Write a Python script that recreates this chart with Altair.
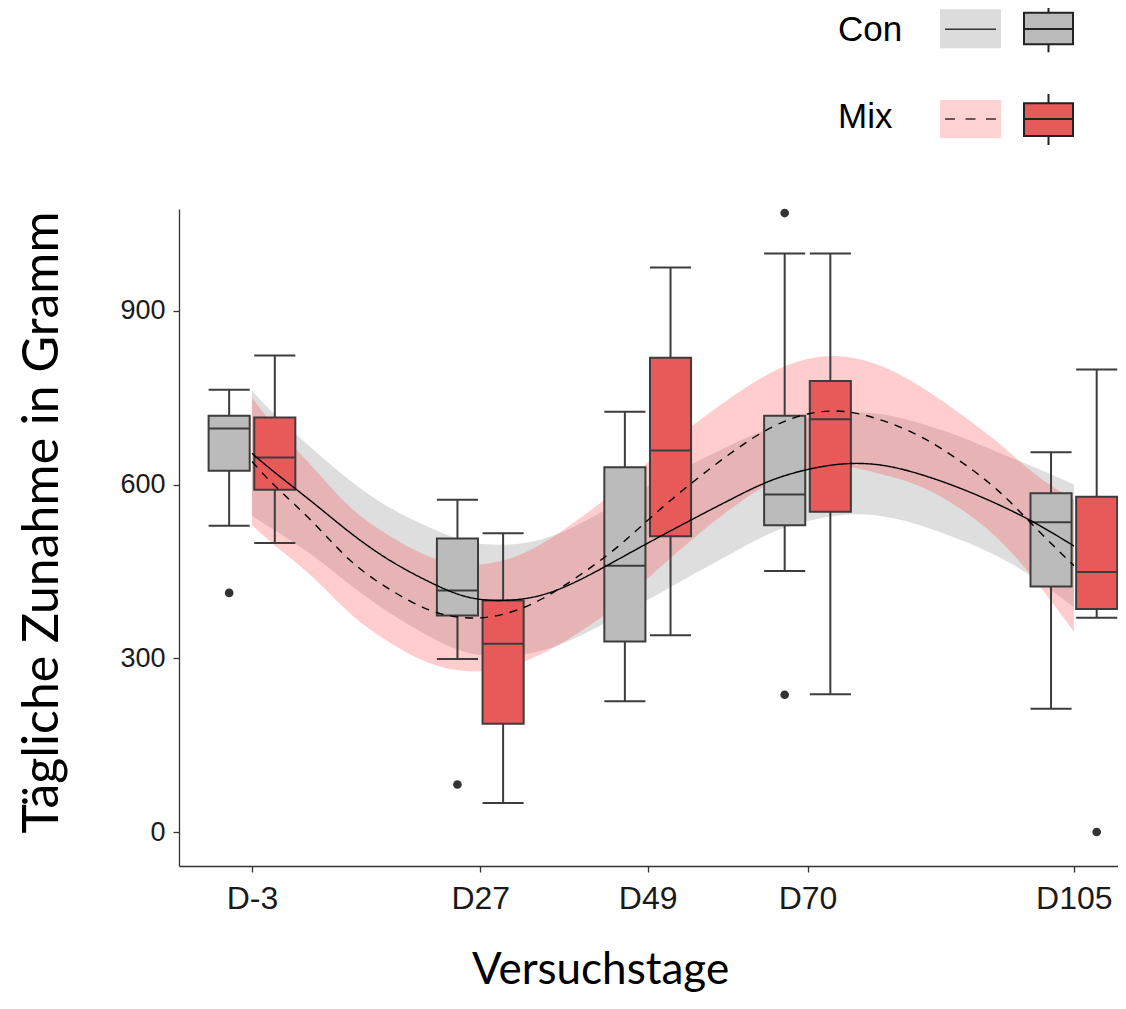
import altair as alt
import pandas as pd

# ---------------- data ----------------
days = [-3, 27, 49, 70, 105]
day_labels = ["D-3", "D27", "D49", "D70", "D105"]
groups = ["Con", "Mix"]

con_lower_whisker = [529, 299, 226, 451, 213]
con_q1 = [624, 374, 329, 530, 424]
con_median = [697, 417, 460, 583, 535]
con_q3 = [719, 507, 630, 719, 585]
con_upper_whisker = [764, 574, 726, 999, 656]

mix_lower_whisker = [499, 50, 340, 238, 370]
mix_q1 = [591, 187, 511, 553, 385]
mix_median = [647, 325, 659, 713, 449]
mix_q3 = [716, 400, 819, 779, 579]
mix_upper_whisker = [823, 516, 975, 999, 799]

outlier_day = [-3, 27, 70, 70, 105]
outlier_group = ["Con", "Con", "Con", "Con", "Mix"]
outlier_value = [413, 82, 1069, 237, 0]

smooth_day = [-3, 0, 5, 10, 15, 20, 25, 30, 35, 40, 45, 50, 55, 60, 65, 70, 75, 80, 85, 90, 95, 100, 105]
con_fit = [654, 621, 569, 516, 470, 434, 407, 400, 409, 435, 470, 506, 541, 575, 606, 626, 636, 633, 617, 594, 566, 533, 494]
con_upper = [762, 721, 661, 606, 561, 528, 503, 496, 505, 532, 568, 604, 637, 669, 697, 715, 724, 721, 705, 683, 656, 629, 600]
con_lower = [546, 521, 477, 426, 379, 340, 311, 304, 313, 338, 372, 408, 445, 481, 515, 537, 548, 545, 529, 505, 476, 437, 388]
mix_fit = [640, 598, 535, 468, 420, 385, 370, 376, 402, 443, 492, 550, 605, 655, 697, 722, 726, 710, 682, 641, 590, 525, 460]
mix_upper = [750, 701, 630, 560, 512, 477, 462, 469, 497, 541, 592, 650, 703, 751, 792, 817, 821, 803, 768, 723, 673, 617, 574]
mix_lower = [530, 495, 440, 376, 328, 293, 278, 283, 307, 345, 392, 450, 507, 559, 602, 627, 631, 617, 596, 559, 507, 433, 346]

# ---------------- tables ----------------
box_df = pd.DataFrame({
    "day": days + days,
    "group": ["Con"] * len(days) + ["Mix"] * len(days),
    "lw": con_lower_whisker + mix_lower_whisker,
    "q1": con_q1 + mix_q1,
    "med": con_median + mix_median,
    "q3": con_q3 + mix_q3,
    "uw": con_upper_whisker + mix_upper_whisker,
})
out_df = pd.DataFrame({"day": outlier_day, "group": outlier_group, "value": outlier_value})
smooth_df = pd.DataFrame({
    "day": smooth_day + smooth_day,
    "group": ["Con"] * len(smooth_day) + ["Mix"] * len(smooth_day),
    "fit": con_fit + mix_fit,
    "lo": con_lower + mix_lower,
    "hi": con_upper + mix_upper,
})
legend_df = pd.DataFrame({"group": groups})

# ---------------- styling ----------------
STROKE = "#3c3c3c"
BOX_FILL = ["#BBBBBB", "#E85A5A"]
DODGE = 3.0
HALF = 2.7

xs = alt.Scale(domain=[-12.59, 110.8], nice=False, zero=False)
ys = alt.Scale(domain=[-58.7, 1076], nice=False, zero=False)

x_axis = alt.Axis(
    values=days, labelExpr="'D' + datum.value", title="Versuchstage",
    grid=False, domainColor="#333333", domainWidth=1.3, tickColor="#333333",
    tickWidth=1.3, tickSize=6, labelFontSize=32, labelFont="Liberation Sans",
    labelColor="#1a1a1a", labelPadding=11, titleFont="Lato", titleFontSize=44,
    titleFontWeight="normal", titleColor="black", titleX=421, titleY=117,
    titleBaseline="alphabetic", titleAlign="center",
)
y_axis = alt.Axis(
    values=[0, 300, 600, 900], title="Tägliche Zunahme in Gramm",
    grid=False, domainColor="#333333", domainWidth=1.3, tickColor="#333333",
    tickWidth=1.3, tickSize=6, labelFontSize=27, labelFont="Liberation Sans",
    labelColor="#1a1a1a", labelPadding=8, titleFont="Lato", titleFontSize=50,
    titleFontWeight="normal", titleColor="black", titleX=-137, titleY=313,
    titleAngle=270, titleBaseline="middle", titleAlign="center",
)


def X(field):
    return alt.X(field, type="quantitative", scale=xs, axis=x_axis)


def Y(field):
    return alt.Y(field, type="quantitative", scale=ys, axis=y_axis)


# ---------------- bands and lines ----------------
smooth = alt.Chart(smooth_df)
con_band = smooth.transform_filter("datum.group == 'Con'").mark_area(
    color="#DEDEDE", opacity=1, interpolate="natural"
).encode(x=X("day"), y=Y("lo"), y2="hi")
mix_band = smooth.transform_filter("datum.group == 'Mix'").mark_area(
    color="#FF3838", opacity=0.25, interpolate="natural"
).encode(x=X("day"), y=Y("lo"), y2="hi")
lines = smooth.mark_line(color="black", strokeWidth=1.4, interpolate="natural").encode(
    x=X("day"), y=Y("fit"),
    strokeDash=alt.StrokeDash("group:N", scale=alt.Scale(domain=groups, range=[[1, 0], [8, 7]]), legend=None),
)

# ---------------- boxes ----------------
boxes = (
    alt.Chart(box_df)
    .transform_calculate(pos=f"datum.day + (datum.group == 'Con' ? {-DODGE} : {DODGE})")
    .transform_calculate(left=f"datum.pos - {HALF}")
    .transform_calculate(right=f"datum.pos + {HALF}")
)
whisker = boxes.mark_rule(color=STROKE, strokeWidth=2).encode(x=X("pos"), y=Y("lw"), y2="uw")
cap_hi = boxes.mark_rule(color=STROKE, strokeWidth=2).encode(x=X("left"), x2="right", y=Y("uw"))
cap_lo = boxes.mark_rule(color=STROKE, strokeWidth=2).encode(x=X("left"), x2="right", y=Y("lw"))
box = boxes.mark_rect(stroke=STROKE, strokeWidth=2).encode(
    x=X("left"), x2="right", y=Y("q1"), y2="q3",
    fill=alt.Fill("group:N", scale=alt.Scale(domain=groups, range=BOX_FILL), legend=None),
)
median = boxes.mark_rule(color=STROKE, strokeWidth=2).encode(x=X("left"), x2="right", y=Y("med"))
outliers = (
    alt.Chart(out_df)
    .transform_calculate(pos=f"datum.day + (datum.group == 'Con' ? {-DODGE} : {DODGE})")
    .mark_circle(size=75, color="#333333", opacity=1)
    .encode(x=X("pos"), y=Y("value"))
)

# ---------------- legend (drawn above the panel) ----------------
def legend_layers(name, text_y, band_top, band_bot, line_y, dash, fill, band_fill, band_op,
                  wh_top, box_top, box_bot, wh_bot, med_y):
    src = alt.Chart(legend_df).transform_filter(f"datum.group == '{name}'")
    return [
        src.mark_text(align="left", baseline="alphabetic", fontSize=35, font="Liberation Sans", color="black")
        .encode(text="group:N", x=alt.value(659), y=alt.value(text_y)),
        src.mark_rect(color=band_fill, opacity=band_op)
        .encode(x=alt.value(761), x2=alt.value(822), y=alt.value(band_top), y2=alt.value(band_bot)),
        src.mark_rule(color="#333333", strokeWidth=1.5, strokeDash=dash)
        .encode(x=alt.value(766), x2=alt.value(817), y=alt.value(line_y)),
        src.mark_rule(color="#222222", strokeWidth=2)
        .encode(x=alt.value(869.5), y=alt.value(wh_top), y2=alt.value(wh_bot)),
        src.mark_rect(color=fill, stroke="#222222", strokeWidth=2)
        .encode(x=alt.value(845), x2=alt.value(894), y=alt.value(box_top), y2=alt.value(box_bot)),
        src.mark_rule(color="#222222", strokeWidth=2)
        .encode(x=alt.value(845), x2=alt.value(894), y=alt.value(med_y)),
    ]


leg = legend_layers("Con", -168, -199.7, -160.7, -179.7, [1, 0], BOX_FILL[0], "#DCDCDC", 1,
                    -201, -196.3, -164.7, -156.7, -180)
leg += legend_layers("Mix", -80.7, -109, -70.7, -90, [10, 10.5], BOX_FILL[1], "#FF3838", 0.22,
                     -115, -105.7, -73, -64, -90)

chart = alt.layer(
    con_band, mix_band, whisker, cap_hi, cap_lo, box, median, outliers, lines, *leg
).properties(
    width=939, height=657,
    autosize=alt.AutoSizeParams(type="none"),
    padding={"left": 171, "top": 201, "right": 0, "bottom": 129},
    background="white",
).configure_view(stroke=None)

chart.save("out.html", embed_options={"renderer": "svg", "actions": False})
